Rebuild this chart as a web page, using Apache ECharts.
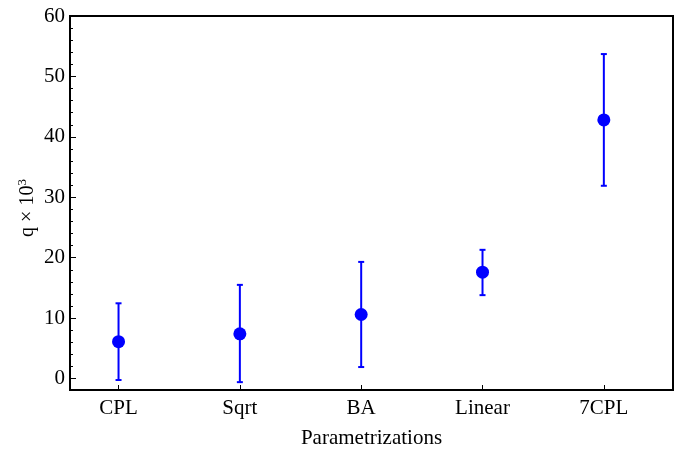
<!DOCTYPE html>
<html>
<head>
<meta charset="utf-8">
<script src="https://cdn.jsdelivr.net/npm/echarts@6/dist/echarts.min.js"></script>
<style>html,body{margin:0;padding:0;background:#fff}#c{width:683px;height:452px}</style>
</head>
<body>
<div id="c"></div>
<script>
const categories = ['CPL', 'Sqrt', 'BA', 'Linear', '7CPL'];
const values = [6.1, 7.4, 10.6, 17.6, 42.8];
const upper = [12.45, 15.5, 19.3, 21.3, 53.7];
const lower = [-0.25, -0.6, 1.9, 13.8, 31.9];
const yTicks = [0, 10, 20, 30, 40, 50, 60];

const FONT = 'Liberation Serif';
const BLUE = '#0000ff';

const errData = categories.map((c, i) => [i + 1, lower[i], upper[i]]);
const ptData = categories.map((c, i) => [i + 1, values[i]]);

const chart = echarts.init(document.getElementById('c'), null, {renderer: 'canvas'});
chart.setOption({
  animation: false,
  backgroundColor: '#fff',
  grid: {left: 70, right: 10, top: 16, bottom: 62, outerBoundsMode: 'none', containLabel: false,
         show: true, borderColor: '#000', borderWidth: 2, backgroundColor: 'transparent'},
  xAxis: {
    type: 'value', min: 0.6, max: 5.57, splitNumber: 5,
    splitLine: {show: false},
    axisLine: {show: true, onZero: false, lineStyle: {color: '#000', width: 2}},
    axisTick: {show: true, inside: true, length: 5, lineStyle: {color: '#000', width: 1}},
    axisLabel: {
      color: '#000', fontFamily: FONT, fontSize: 21, margin: 8,
      showMinLabel: false, showMaxLabel: false,
      formatter: v => (Number.isInteger(v) && v >= 1 && v <= categories.length) ? categories[v - 1] : ''
    },
    name: 'Parametrizations', nameLocation: 'middle', nameGap: 38,
    nameTextStyle: {color: '#000', fontFamily: FONT, fontSize: 21}
  },
  yAxis: {
    type: 'value', min: -1.9, max: 60, splitNumber: 6,
    splitLine: {show: false},
    axisLine: {show: true, onZero: false, lineStyle: {color: '#000', width: 2}},
    axisTick: {show: true, inside: true, length: 6, lineStyle: {color: '#000', width: 1}},
    minorTick: {show: true, splitNumber: 5, length: 3, lineStyle: {color: '#000', width: 1}},
    axisLabel: {
      color: '#000', fontFamily: FONT, fontSize: 21, margin: 5,
      showMinLabel: false,
      formatter: v => yTicks.indexOf(v) >= 0 ? String(v) : ''
    }
  },
  graphic: [{
    type: 'text', x: 27, y: 208, rotation: Math.PI / 2,
    style: {
      text: '{a|q × 10}{s|3}', align: 'center', verticalAlign: 'middle',
      rich: {
        a: {fontFamily: FONT, fontSize: 20, fill: '#000', verticalAlign: 'bottom'},
        s: {fontFamily: FONT, fontSize: 13, fill: '#000', verticalAlign: 'top', padding: [0, 0, 9, 0]}
      }
    }
  }],
  series: [{
    type: 'custom',
    data: errData,
    renderItem: (params, api) => {
      const x = api.value(0);
      const lo = api.coord([x, api.value(1)]);
      const hi = api.coord([x, api.value(2)]);
      const hw = 3;
      const st = {stroke: BLUE, lineWidth: 2};
      return {type: 'group', children: [
        {type: 'line', shape: {x1: lo[0], y1: lo[1], x2: hi[0], y2: hi[1]}, style: st},
        {type: 'line', shape: {x1: lo[0] - hw, y1: lo[1], x2: lo[0] + hw, y2: lo[1]}, style: st},
        {type: 'line', shape: {x1: hi[0] - hw, y1: hi[1], x2: hi[0] + hw, y2: hi[1]}, style: st}
      ]};
    },
    z: 2
  }, {
    type: 'scatter',
    data: ptData,
    symbol: 'circle', symbolSize: 13,
    itemStyle: {color: BLUE, opacity: 1},
    z: 3
  }]
});
</script>
</body>
</html>
